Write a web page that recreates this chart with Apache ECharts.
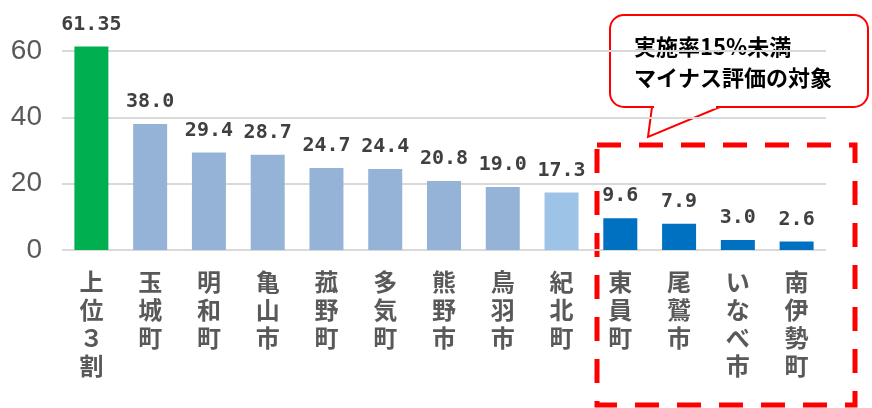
<!DOCTYPE html>
<html>
<head>
<meta charset="utf-8">
<script src="https://cdn.jsdelivr.net/npm/echarts@6/dist/echarts.min.js"></script>
<style>
  html, body { margin: 0; padding: 0; background: #fff; }
  #chart { width: 872px; height: 408px; }
</style>
</head>
<body>
<div id="chart"></div>
<script>
// 実施率（%）
const categories = ['上位３割', '玉城町', '明和町', '亀山市', '菰野町', '多気町', '熊野市', '鳥羽市', '紀北町', '東員町', '尾鷲市', 'いなべ市', '南伊勢町']
const values = [61.35, 38.0, 29.4, 28.7, 24.7, 24.4, 20.8, 19.0, 17.3, 9.6, 7.9, 3.0, 2.6]
const valueLabels = ['61.35', '38.0', '29.4', '28.7', '24.7', '24.4', '20.8', '19.0', '17.3', '9.6', '7.9', '3.0', '2.6']
const yTicks = [0, 20, 40, 60]

var myChart = echarts.init(document.getElementById('chart'))

// bar colour by group
function barColor (i) {
  if (i === 0) return '#00B050'
  if (values[i] < 15) return '#0070C0'
  if (i === 8) return '#9DC3E6'
  return '#95B3D7'
}

var option = {
  animation: false,
  grid: { left: 62, right: 46, top: 51, bottom: 158 },
  xAxis: {
    type: 'category',
    data: categories,
    axisLine: { show: false },
    axisTick: { show: false },
    axisLabel: {
      interval: 0,
      margin: 18,
      fontSize: 24,
      lineHeight: 28,
      fontWeight: 'bold',
      color: '#595959',
      fontFamily: 'Noto Sans CJK JP',
      verticalAlign: 'top',
      formatter: function (v) { return v.split('').join('\n') }
    }
  },
  yAxis: {
    type: 'value',
    min: yTicks[0],
    max: yTicks[yTicks.length - 1],
    interval: 20,
    axisLine: { show: false },
    axisTick: { show: false },
    splitLine: { lineStyle: { color: '#D9D9D9', width: 2 } },
    axisLabel: {
      fontSize: 28,
      color: '#595959',
      margin: 20,
      fontFamily: '"Liberation Sans Narrow", "Liberation Sans", sans-serif'
    }
  },
  series: [
    {
      type: 'bar',
      barWidth: 34,
      clip: false,
      data: values.map((v, i) => ({ value: v, itemStyle: { color: barColor(i) } })),
      label: {
        show: true,
        position: 'top',
        distance: 12,
        fontSize: 20,
        fontWeight: 'bold',
        color: '#404040',
        fontFamily: 'DejaVu Sans Mono',
        formatter: p => valueLabels[p.dataIndex]
      }
    }
  ],
  graphic: [
    {
      type: 'rect',
      shape: { x: 597, y: 145, width: 258, height: 260 },
      style: { fill: 'none', stroke: '#FF0000', lineWidth: 5, lineDash: [24, 18] }
    },
    // callout box
    {
      type: 'rect',
      shape: { x: 610, y: 15, width: 258, height: 92, r: 14 },
      style: { fill: '#fff', stroke: '#FF0000', lineWidth: 2 }
    },
    {
      type: 'polygon',
      shape: { points: [[652, 107], [648, 137], [720, 107]] },
      style: { fill: '#fff', stroke: '#FF0000', lineWidth: 2 }
    },
    {
      type: 'line',
      shape: { x1: 654, y1: 107, x2: 716, y2: 107 },
      style: { stroke: '#fff', lineWidth: 3 }
    },
    {
      type: 'text',
      left: 634,
      top: 31,
      style: {
        text: '実施率15%未満\nマイナス評価の対象',
        fontSize: 22,
        lineHeight: 31,
        fontWeight: 'bold',
        fill: '#000',
        fontFamily: 'Noto Sans CJK JP'
      }
    }
  ]
}

myChart.setOption(option)
</script>
</body>
</html>
